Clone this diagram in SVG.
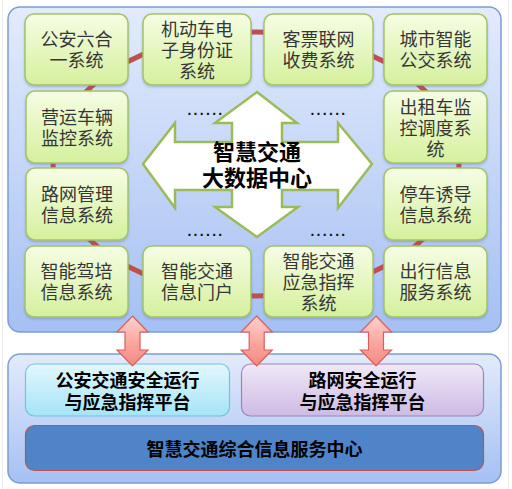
<svg xmlns="http://www.w3.org/2000/svg" width="512" height="489" viewBox="0 0 512 489">
<defs>
<linearGradient id="gPanel" x1="0" y1="0" x2="0" y2="1"><stop offset="0" stop-color="#e3ebfc"/><stop offset="1" stop-color="#a5c0f3"/></linearGradient>
<linearGradient id="gGreen" x1="0" y1="0" x2="0" y2="1"><stop offset="0" stop-color="#f6fde4"/><stop offset="1" stop-color="#d5f09c"/></linearGradient>
<linearGradient id="gCyan" x1="0" y1="0" x2="0" y2="1"><stop offset="0" stop-color="#e3f7fd"/><stop offset="1" stop-color="#a4e4f7"/></linearGradient>
<linearGradient id="gLav" x1="0" y1="0" x2="0" y2="1"><stop offset="0" stop-color="#f0e8f7"/><stop offset="1" stop-color="#cdbbe4"/></linearGradient>
<linearGradient id="gPink" x1="0" y1="0" x2="0" y2="1"><stop offset="0" stop-color="#ffd2ce"/><stop offset="0.5" stop-color="#fba9a2"/><stop offset="1" stop-color="#f28981"/></linearGradient>
<filter id="sh" x="-10%" y="-10%" width="120%" height="130%"><feDropShadow dx="0" dy="1.5" stdDeviation="1.2" flood-color="#4a6a9a" flood-opacity="0.35"/></filter>
<path id="dArrow" d="M0,316 L15.5,332 L7.5,332 L7.5,350 L15.5,350 L0,366 L-15.5,350 L-7.5,350 L-7.5,332 L-15.5,332 Z"/>
</defs>
<style>
.panel{fill:url(#gPanel);stroke:#7b9dd4;stroke-width:1.5}
.box{fill:url(#gGreen);stroke:#a2c368;stroke-width:1.5;filter:url(#sh)}
.t{font-family:"Noto Sans CJK SC","Microsoft YaHei",sans-serif;font-size:18px;fill:#363636;text-anchor:middle}
.tb{font-family:"Noto Sans CJK SC","Microsoft YaHei",sans-serif;font-size:18px;font-weight:bold;fill:#000;text-anchor:middle}
.tc{font-family:"Noto Sans CJK SC","Microsoft YaHei",sans-serif;font-size:22px;font-weight:bold;fill:#000;text-anchor:middle}
.dots{font-family:"Liberation Sans",sans-serif;font-size:14px;font-weight:bold;fill:#111;letter-spacing:2.3px;text-anchor:middle}
.pink{fill:url(#gPink);stroke:#dc5e58;stroke-width:1.2}
</style>
<rect width="512" height="489" fill="#fff"/>
<line x1="2.5" y1="0" x2="2.5" y2="489" stroke="#ececec"/>
<line x1="508.5" y1="0" x2="508.5" y2="489" stroke="#ececec"/>

<g id="panel-top"><rect class="panel" x="8" y="7" width="493" height="325" rx="12"/></g>
<g id="panel-bottom"><rect class="panel" x="8" y="354" width="493" height="129" rx="12"/></g>

<g id="connectors">
<ellipse cx="256" cy="164" rx="203" ry="132" fill="none" stroke="#c0504d" stroke-width="5"/>
</g>

<g id="n-gaxh"><rect class="box" x="25" y="14" width="103" height="71" rx="9"/><text class="t" x="76.5" y="46">公安六合<tspan x="76.5" dy="21">一系统</tspan></text></g>
<g id="n-jdc"><rect class="box" x="143" y="14" width="108" height="71" rx="9"/><text class="t" x="197" y="36">机动车电<tspan x="197" dy="21">子身份证</tspan><tspan x="197" dy="21">系统</tspan></text></g>
<g id="n-kp"><rect class="box" x="264" y="14" width="109" height="71" rx="9"/><text class="t" x="318.5" y="46">客票联网<tspan x="318.5" dy="21">收费系统</tspan></text></g>
<g id="n-gj"><rect class="box" x="384" y="14" width="103" height="71" rx="9"/><text class="t" x="435.5" y="46">城市智能<tspan x="435.5" dy="21">公交系统</tspan></text></g>

<g id="n-yy"><rect class="box" x="26" y="91" width="102" height="72" rx="9"/><text class="t" x="77" y="123.5">营运车辆<tspan x="77" dy="21">监控系统</tspan></text></g>
<g id="n-cz"><rect class="box" x="384" y="91" width="103" height="72" rx="9"/><text class="t" x="435.5" y="113.5">出租车监<tspan x="435.5" dy="21">控调度系</tspan><tspan x="435.5" dy="21">统</tspan></text></g>

<g id="n-lw"><rect class="box" x="26" y="168" width="102" height="72" rx="9"/><text class="t" x="77" y="200.5">路网管理<tspan x="77" dy="21">信息系统</tspan></text></g>
<g id="n-tc"><rect class="box" x="384" y="168" width="103" height="72" rx="9"/><text class="t" x="435.5" y="200.5">停车诱导<tspan x="435.5" dy="21">信息系统</tspan></text></g>

<g id="n-jp"><rect class="box" x="25" y="246" width="103" height="71" rx="9"/><text class="t" x="76.5" y="278">智能驾培<tspan x="76.5" dy="21">信息系统</tspan></text></g>
<g id="n-mh"><rect class="box" x="143" y="246" width="108" height="71" rx="9"/><text class="t" x="197" y="278">智能交通<tspan x="197" dy="21">信息门户</tspan></text></g>
<g id="n-yj"><rect class="box" x="264" y="246" width="109" height="71" rx="9"/><text class="t" x="318.5" y="268">智能交通<tspan x="318.5" dy="21">应急指挥</tspan><tspan x="318.5" dy="21">系统</tspan></text></g>
<g id="n-cx"><rect class="box" x="384" y="246" width="103" height="71" rx="9"/><text class="t" x="435.5" y="278">出行信息<tspan x="435.5" dy="21">服务系统</tspan></text></g>

<g id="n-center">
<polygon points="257,92 297,123 282,123 282,142 338,142 338,123 372,164 338,208 338,190 282,190 282,207 298,207 257,237 215,207 232,207 232,190 175,190 175,208 143,164 175,123 175,142 232,142 232,123 215,123" fill="#fff" stroke="#9bbb59" stroke-width="2.5" stroke-linejoin="miter"/>
<text class="tc" x="257" y="160">智慧交通<tspan x="257" dy="26">大数据中心</tspan></text>
</g>

<g id="ellipsis">
<text class="dots" x="206" y="115">......</text>
<text class="dots" x="329" y="115">......</text>
<text class="dots" x="206" y="236">......</text>
<text class="dots" x="329" y="236">......</text>
</g>

<g id="n-ga"><rect x="25.5" y="364" width="204" height="52" rx="9" fill="url(#gCyan)" stroke="#74c2da" stroke-width="1.2"/><text class="tb" x="127.5" y="387">公安交通安全运行<tspan x="127.5" dy="21.5">与应急指挥平台</tspan></text></g>
<g id="n-lwaq"><rect x="241.5" y="364" width="242" height="52" rx="9" fill="url(#gLav)" stroke="#9a85b9" stroke-width="1.2"/><text class="tb" x="362.5" y="387">路网安全运行<tspan x="362.5" dy="21.5">与应急指挥平台</tspan></text></g>
<g id="n-zh"><rect x="25.5" y="425.5" width="458" height="45" rx="9" fill="#4f85c8" stroke="#c0504d" stroke-width="1.2"/><text class="tb" x="254.5" y="456">智慧交通综合信息服务中心</text></g>

<g id="arrows">
<use href="#dArrow" class="pink" transform="translate(132.5,0)"/>
<use href="#dArrow" class="pink" transform="translate(256.7,0)"/>
<use href="#dArrow" class="pink" transform="translate(376,0)"/>
</g>
</svg>
